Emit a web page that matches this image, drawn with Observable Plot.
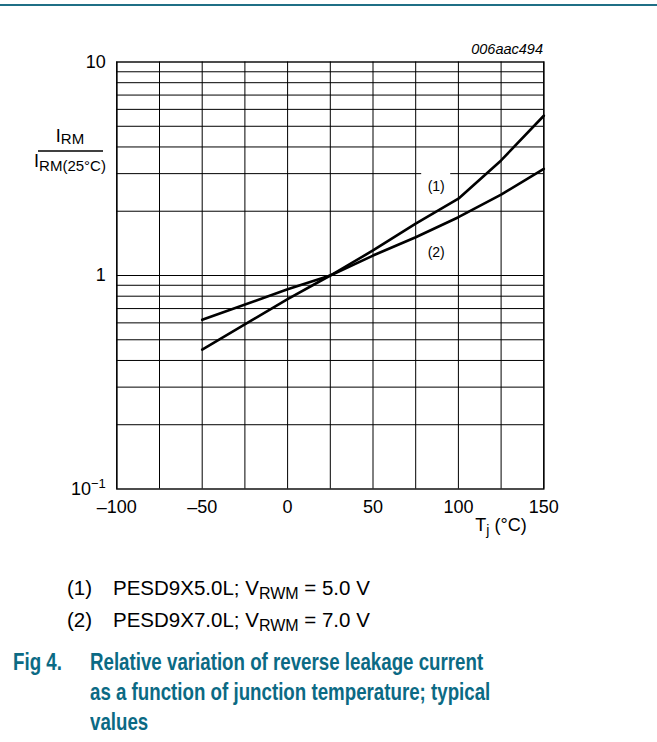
<!DOCTYPE html>
<html>
<head>
<meta charset="utf-8">
<script src="https://cdn.jsdelivr.net/npm/d3@7"></script>
<script src="https://cdn.jsdelivr.net/npm/@observablehq/plot@0.6"></script>
<style>
  body { margin: 0; background: #fff; }
  #wrap { position: relative; width: 657px; height: 742px; font-family: "Liberation Sans", Arial, Helvetica, sans-serif; }
  #topline { position: absolute; left: 0; top: 4px; width: 657px; height: 1.5px; background: #1f6f86; }
  #chart { position: absolute; left: 0; top: 0; }
  .leg { position: absolute; left: 0; font-size: 20.5px; color: #000; line-height: 24px; white-space: nowrap; }
  .leg .n { position: absolute; left: 67px; }
  .leg .t { position: absolute; left: 113px; }
  .leg sub { font-size: 16px; vertical-align: -4px; }
  #cap { position: absolute; left: 0; top: 647px; color: #0b6a84; font-weight: bold; font-size: 23.4px; line-height: 30px; font-family: "Liberation Sans Narrow", "Arial Narrow", "Liberation Sans", Arial, sans-serif; }
  #cap .fig { position: absolute; left: 13px; white-space: nowrap; }
  #cap .txt { position: absolute; left: 90px; white-space: nowrap; transform-origin: 0 0; }
</style>
</head>
<body>
<div id="wrap">
  <div id="topline"></div>
  <div id="chart"></div>
  <div class="leg" style="top:576px"><span class="n">(1)</span><span class="t">PESD9X5.0L; V<sub>RWM</sub> = 5.0 V</span></div>
  <div class="leg" style="top:608px"><span class="n">(2)</span><span class="t">PESD9X7.0L; V<sub>RWM</sub> = 7.0 V</span></div>
  <div id="cap"><span class="fig">Fig 4.</span><span class="txt">Relative variation of reverse leakage current<br>as a function of junction temperature; typical<br>values</span></div>
</div>
<script>
// ---- data ----
const temps = [-50, 0, 25, 50, 75, 100, 125, 150];
const series1 = [0.45, 0.775, 1.0, 1.31, 1.75, 2.29, 3.46, 5.6];   // (1) PESD9X5.0L
const series2 = [0.62, 0.862, 1.0, 1.24, 1.51, 1.875, 2.39, 3.16];  // (2) PESD9X7.0L
const seriesNames = ["(1)", "(2)"];
const xTicks = [-100, -50, 0, 50, 100, 150];
const xGrid = [-100, -75, -50, -25, 0, 25, 50, 75, 100, 125, 150];
const yTicks = [0.1, 1, 10];
const yGrid = [0.2, 0.3, 0.4, 0.5, 0.6, 0.7, 0.8, 0.9, 1, 2, 3, 4, 5, 6, 7, 8, 9];
const curveLabelX = [87, 87];
const curveLabelY = [2.62, 1.28];
const gapY = 3;
const gapX = [78.5, 95.5];

const data = [];
temps.forEach((t, i) => data.push({series: seriesNames[0], t, v: series1[i]}));
temps.forEach((t, i) => data.push({series: seriesNames[1], t, v: series2[i]}));
const labels = seriesNames.map((s, i) => ({text: s, x: curveLabelX[i], y: curveLabelY[i]}));

const FONT = "Liberation Sans, Arial, Helvetica, sans-serif";

// caption: if no narrow font is installed, condense the regular one
(function() {
  const c = document.createElement("canvas").getContext("2d");
  c.font = "bold 24px 'Liberation Sans Narrow', monospace";
  const w1 = c.measureText("Relative variation").width;
  c.font = "bold 24px monospace";
  const w2 = c.measureText("Relative variation").width;
  if (Math.abs(w1 - w2) < 0.5) {
    const cap = document.getElementById("cap");
    cap.style.fontFamily = FONT;
    cap.querySelectorAll("span").forEach(s => { s.style.transformOrigin = "0 0"; s.style.transform = "scaleX(0.8)"; });
  }
})();

const plot = Plot.plot({
  width: 657,
  height: 545,
  marginTop: 61.5,
  marginLeft: 116.3,
  marginRight: 113.7,
  marginBottom: 56.5,
  style: {fontFamily: FONT, background: "transparent", overflow: "visible"},
  x: {domain: [-100, 150]},
  y: {type: "log", domain: [0.1, 10]},
  marks: [
    Plot.ruleX(xGrid, {stroke: "#000", strokeWidth: 1}),
    Plot.ruleY(yGrid, {stroke: "#000", strokeWidth: 1}),
    Plot.ruleY([gapY], {x1: gapX[0], x2: gapX[1], stroke: "#fff", strokeWidth: 3}),
    Plot.frame({stroke: "#000", strokeWidth: 1.4}),
    Plot.line(data, {x: "t", y: "v", z: "series", stroke: "#000", strokeWidth: 2.6, strokeLinejoin: "round"}),
    Plot.text(labels, {x: "x", y: "y", text: "text", fontSize: 14, fill: "#000"}),
    Plot.axisX({ticks: xTicks, tickSize: 0, tickPadding: 11, fontSize: 18, label: null, tickFormat: d => d < 0 ? "\u2013" + Math.abs(d) : String(d)}),
    Plot.axisY({ticks: yTicks, tickSize: 0, tickPadding: 11, fontSize: 18, label: null, tickFormat: d => d === 0.1 ? "10^-1" : String(d)})
  ]
});

document.getElementById("chart").appendChild(plot);

const svg = d3.select(plot);
// superscript for 10^-1
svg.selectAll("text").each(function() {
  const el = d3.select(this);
  if (el.text() === "10^-1") {
    el.text("");
    el.append("tspan").text("10");
    el.append("tspan").attr("font-size", 13).attr("dy", "-0.55em").text("\u22121");
  }
});

const g = svg.append("g").attr("font-family", FONT).attr("fill", "#000");
// id label
g.append("text").attr("x", 543).attr("y", 54).attr("text-anchor", "end")
  .attr("font-size", 14.5).attr("font-style", "italic").text("006aac494");

// y axis label (fraction)
const num = g.append("text").attr("x", 70).attr("y", 142).attr("text-anchor", "middle").attr("font-size", 18);
num.append("tspan").text("I");
num.append("tspan").attr("font-size", 15).attr("dy", 2).text("RM");
g.append("line").attr("x1", 38).attr("x2", 103).attr("y1", 151).attr("y2", 151).attr("stroke", "#000").attr("stroke-width", 1.5);
const den = g.append("text").attr("x", 70).attr("y", 167).attr("text-anchor", "middle").attr("font-size", 18);
den.append("tspan").text("I");
den.append("tspan").attr("font-size", 15).attr("dy", 4).text("RM(25\u00B0C)");

// x axis label
const xl = g.append("text").attr("x", 501).attr("y", 531).attr("text-anchor", "middle").attr("font-size", 18);
xl.append("tspan").text("T");
xl.append("tspan").attr("font-size", 14).attr("dy", 4).text("j");
xl.append("tspan").attr("dy", -4).text(" (\u00B0C)");
</script>
</body>
</html>
